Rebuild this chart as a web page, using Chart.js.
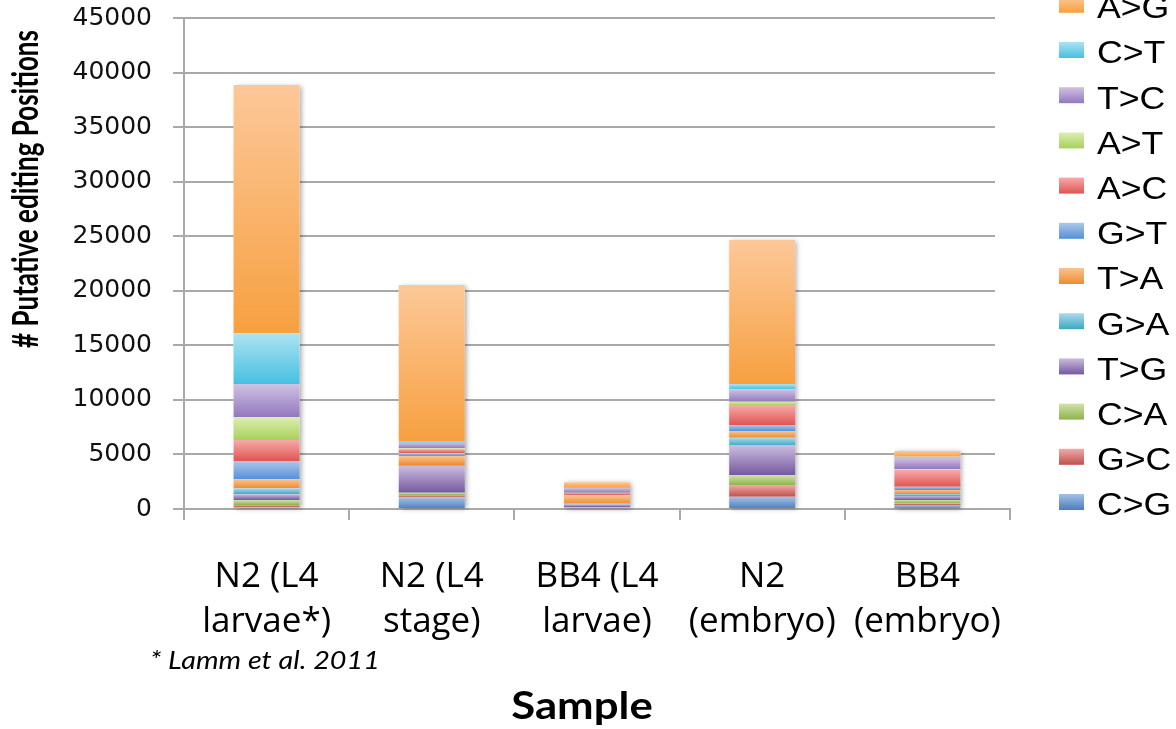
<!DOCTYPE html>
<html>
<head>
<meta charset="utf-8">
<title>Putative editing positions by sample</title>
<script src="https://cdn.jsdelivr.net/npm/chart.js@4.4.1/dist/chart.umd.min.js"></script>
<style>
  html, body { margin: 0; padding: 0; background: #ffffff; }
  #wrap { width: 1176px; height: 729px; position: relative; }
</style>
</head>
<body>
<div id="wrap"><canvas id="chart"></canvas></div>
<script>
// Samples on the x axis (two-line labels)
const categories = [
  ["N2 (L4", "larvae*)"],
  ["N2 (L4", "stage)"],
  ["BB4 (L4", "larvae)"],
  ["N2", "(embryo)"],
  ["BB4", "(embryo)"]
];

// Substitution types, stacked from the bottom up
const seriesNames = ["C>G", "G>C", "C>A", "T>G", "G>A", "T>A", "G>T", "A>C", "A>T", "T>C", "C>T", "A>G"];

// Number of putative editing positions per sample, one array per substitution type
const cgValues = [160, 1070, 60, 1130, 370];
const gcValues = [210, 210, 50, 1070, 160];
const caValues = [460, 210, 80, 920, 300];
const tgValues = [520, 2450, 220, 2690, 370];
const gaValues = [550, 90, 60, 730, 180];
const taValues = [830, 830, 760, 610, 370];
const gtValues = [1680, 250, 50, 550, 300];
const acValues = [1920, 370, 180, 1830, 1530];
const atValues = [2080, 90, 40, 300, 60];
const tcValues = [3050, 510, 420, 1140, 1060];
const ctValues = [4650, 160, 40, 490, 90];
const agValues = [22750, 14300, 495, 13200, 520];

const seriesValues = [cgValues, gcValues, caValues, tgValues, gaValues, taValues,
                      gtValues, acValues, atValues, tcValues, ctValues, agValues];

// Value axis ticks
const yTickValues = [0, 5000, 10000, 15000, 20000, 25000, 30000, 35000, 40000, 45000];

const yTitle = "# Putative editing Positions";
const xTitle = "Sample";
const footnote = "* Lamm et al. 2011";

// Light (top) and dark (bottom) gradient stops for each series
const palette = [
  ["#a6c0e4", "#4a7dbf"], // C>G
  ["#f0aaa7", "#c0504d"], // G>C
  ["#d0e3a8", "#8fb24e"], // C>A
  ["#cbbcdd", "#7558a0"], // T>G
  ["#abdcec", "#3ea6c2"], // G>A
  ["#f9c391", "#ef8b30"], // T>A
  ["#adc8ec", "#5590d6"], // G>T
  ["#f6abaa", "#e05552"], // A>C
  ["#ddeeb2", "#a8d05a"], // A>T
  ["#cfc2e3", "#9277bd"], // T>C
  ["#ade3f2", "#46c0e0"], // C>T
  ["#fcc899", "#f7a040"]  // A>G
];

const gridColor = "#a9a9a9";

function segmentFill(context) {
  const chart = context.chart;
  const ds = context.datasetIndex;
  const i = context.dataIndex;
  const pal = palette[ds];
  const yScale = chart.scales && chart.scales.y;
  if (!chart.chartArea || !yScale || i === undefined) return pal[1];
  let base = 0;
  for (let k = 0; k < ds; k++) base += seriesValues[k][i];
  const top = base + seriesValues[ds][i];
  const y0 = yScale.getPixelForValue(top);
  const y1 = yScale.getPixelForValue(base);
  if (!isFinite(y0) || !isFinite(y1) || y1 - y0 < 0.5) return pal[1];
  const g = chart.ctx.createLinearGradient(0, y0, 0, y1);
  g.addColorStop(0, pal[0]);
  g.addColorStop(1, pal[1]);
  return g;
}

// Horizontal gridlines (stop a little short of the right end of the axis) and bar shadows
const backdropPlugin = {
  id: "backdrop",
  beforeDatasetsDraw(chart) {
    const c = chart.ctx;
    const area = chart.chartArea;
    const y = chart.scales.y;
    c.save();
    c.strokeStyle = gridColor;
    c.lineWidth = 2;
    yTickValues.forEach(v => {
      if (v === 0) return;
      const py = Math.round(y.getPixelForValue(v));
      c.beginPath();
      c.moveTo(area.left, py);
      c.lineTo(area.right - 15, py);
      c.stroke();
    });
    // soft shadow behind each full stacked column
    const first = chart.getDatasetMeta(0).data;
    const last = chart.getDatasetMeta(seriesValues.length - 1).data;
    c.shadowColor = "rgba(0,0,0,0.35)";
    c.shadowBlur = 5;
    c.shadowOffsetX = 2;
    c.shadowOffsetY = 1;
    c.fillStyle = "#ffffff";
    first.forEach((el, i) => {
      const topEl = last[i];
      if (!el || !topEl) return;
      const w = el.width;
      c.fillRect(el.x - w / 2, topEl.y, w, el.base - topEl.y);
    });
    c.restore();
  }
};

// Titles, footnote and the legend at the right
const textPlugin = {
  id: "texts",
  afterDraw(chart) {
    const c = chart.ctx;
    c.save();
    c.fillStyle = "#000000";

    // y axis title, rotated
    c.save();
    c.translate(38, 189);
    c.scale(1.4, 1);
    c.rotate(-Math.PI / 2);
    c.font = 'bold 26px Lato';
    c.textAlign = "center";
    c.textBaseline = "alphabetic";
    c.fillText(yTitle, 0, 0);
    c.restore();

    // x axis title
    c.save();
    c.translate(582, 719);
    c.scale(1.15, 1);
    c.font = 'bold 38px Lato';
    c.textAlign = "center";
    c.textBaseline = "alphabetic";
    c.fillText(xTitle, 0, 0);
    c.restore();

    // footnote
    c.save();
    c.translate(150, 669);
    c.scale(1.15, 1);
    c.font = 'italic 25px Lato';
    c.textAlign = "left";
    c.textBaseline = "alphabetic";
    c.fillText(footnote, 0, 0);
    c.restore();

    // legend, top entry is the top of the stack
    const rows = seriesNames.map((n, k) => k).reverse();
    rows.forEach((k, row) => {
      const cy = 4.8 + row * 45.2;
      const g = c.createLinearGradient(0, cy - 8, 0, cy + 8);
      g.addColorStop(0, palette[k][0]);
      g.addColorStop(1, palette[k][1]);
      c.fillStyle = g;
      c.fillRect(1059, cy - 8, 25, 16);
      c.save();
      c.translate(1097, cy + 13.3);
      c.scale(1.15, 1);
      c.fillStyle = "#000000";
      c.font = '31px "Liberation Sans"';
      c.textAlign = "left";
      c.textBaseline = "alphabetic";
      c.fillText(seriesNames[k], 0, 0);
      c.restore();
    });
    c.restore();
  }
};

const datasets = seriesNames.map((name, k) => ({
  label: name,
  data: seriesValues[k],
  backgroundColor: segmentFill,
  borderWidth: 0,
  barPercentage: 0.4,
  categoryPercentage: 1.0
}));

new Chart(document.getElementById("chart"), {
  type: "bar",
  data: { labels: categories, datasets: datasets },
  plugins: [backdropPlugin, textPlugin],
  options: {
    responsive: true,
    maintainAspectRatio: false,
    animation: false,
    events: [],
    layout: { padding: { left: 0, right: 166, top: 18, bottom: 0 } },
    plugins: {
      legend: { display: false },
      tooltip: { enabled: false },
      title: { display: false }
    },
    scales: {
      x: {
        stacked: true,
        offset: true,
        grid: {
          offset: true,
          drawOnChartArea: false,
          drawTicks: true,
          tickLength: 11,
          color: gridColor,
          lineWidth: 2
        },
        border: { display: true, color: gridColor, width: 2 },
        ticks: {
          color: "#000000",
          padding: 34,
          maxRotation: 0,
          autoSkip: false,
          font: { family: '"Open Sans"', size: 35, lineHeight: 1.29 }
        },
        afterFit(scale) {
          scale.height = 220;
          scale.paddingLeft = 0;
          scale.paddingRight = 0;
        }
      },
      y: {
        stacked: true,
        min: 0,
        max: 45000,
        afterBuildTicks(scale) { scale.ticks = yTickValues.map(v => ({ value: v })); },
        grid: {
          drawOnChartArea: false,
          drawTicks: true,
          tickLength: 11,
          color: gridColor,
          lineWidth: 2
        },
        border: { display: true, color: gridColor, width: 2 },
        ticks: {
          color: "#111111",
          padding: 21,
          font: { family: '"DejaVu Sans"', size: 25 },
          callback: (value) => String(value)
        },
        afterFit(scale) {
          scale.width = 184;
          scale.paddingTop = 0;
          scale.paddingBottom = 0;
        }
      }
    }
  }
});
</script>
</body>
</html>
